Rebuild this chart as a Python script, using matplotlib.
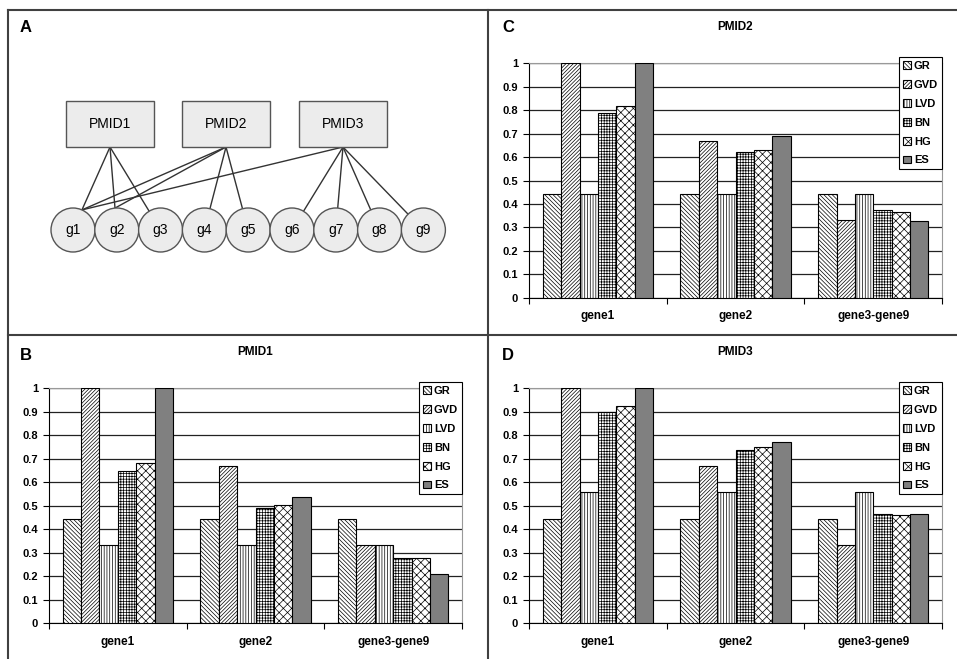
import numpy as np
import matplotlib.pyplot as plt
from matplotlib.patches import Rectangle, Circle
from matplotlib.lines import Line2D

plt.rcParams["font.family"] = ["Liberation Sans", "DejaVu Sans"]
plt.rcParams["hatch.linewidth"] = 0.5

# === DATA ===
groups = ["gene1", "gene2", "gene3-gene9"]
methods = ["GR", "GVD", "LVD", "BN", "HG", "ES"]

pmid1 = {
    "GR": [0.444, 0.444, 0.444],
    "GVD": [1.0, 0.667, 0.333],
    "LVD": [0.333, 0.333, 0.333],
    "BN": [0.647, 0.488, 0.278],
    "HG": [0.680, 0.502, 0.275],
    "ES": [1.0, 0.538, 0.209],
}
pmid2 = {
    "GR": [0.444, 0.444, 0.444],
    "GVD": [1.0, 0.667, 0.333],
    "LVD": [0.444, 0.444, 0.444],
    "BN": [0.787, 0.623, 0.373],
    "HG": [0.818, 0.630, 0.364],
    "ES": [1.0, 0.688, 0.329],
}
pmid3 = {
    "GR": [0.444, 0.444, 0.444],
    "GVD": [1.0, 0.667, 0.333],
    "LVD": [0.556, 0.556, 0.556],
    "BN": [0.900, 0.737, 0.465],
    "HG": [0.925, 0.747, 0.461],
    "ES": [1.0, 0.770, 0.464],
}

# diagram: which genes each PMID links to
genes = ["g1", "g2", "g3", "g4", "g5", "g6", "g7", "g8", "g9"]
pmids = ["PMID1", "PMID2", "PMID3"]
links = {
    "PMID1": ["g1", "g2", "g3"],
    "PMID2": ["g1", "g2", "g4", "g5"],
    "PMID3": ["g1", "g6", "g7", "g8", "g9"],
}

# === STYLES ===
hatches = {"GR": "\\" * 8, "GVD": "/" * 9, "LVD": "|" * 6, "BN": "+" * 6, "HG": "x" * 4, "ES": ""}
fills = {"GR": "white", "GVD": "white", "LVD": "white", "BN": "white", "HG": "white", "ES": "#808080"}

W, H = 957, 659
fig = plt.figure(figsize=(W / 100, H / 100), dpi=100)

# overlay in pixel coords for borders, letters and diagram
ov = fig.add_axes([0, 0, 1, 1], zorder=0)
ov.set_xlim(0, W)
ov.set_ylim(H, 0)
ov.axis("off")

border = "#404040"
for xs, ys in [([8, W], [10, 10]), ([8, 8], [10, H]), ([488, 488], [10, H]), ([8, W], [335, 335])]:
    ov.add_line(Line2D(xs, ys, color=border, lw=1.5))

for letter, (lx, ly) in zip("ACBD", [(20, 28), (502, 28), (20, 356), (502, 356)]):
    ov.text(lx, ly, letter, fontsize=12, fontweight="bold", va="center", ha="left")

# === PANEL A: DIAGRAM ===
box_x = {"PMID1": 110, "PMID2": 226, "PMID3": 343}
box_w, box_h, box_top = 88, 46, 101
gene_x0, gene_dx, gene_y, r = 73, 43.8, 230, 22
gene_pos = {g: (gene_x0 + i * gene_dx, gene_y) for i, g in enumerate(genes)}

for p in pmids:
    bx = box_x[p]
    ov.add_patch(Rectangle((bx - box_w / 2, box_top), box_w, box_h,
                           facecolor="#ececec", edgecolor="#555555", lw=1.0, zorder=3))
    ov.text(bx, box_top + box_h / 2, p, ha="center", va="center", fontsize=10, zorder=4)

# attach point on each gene circle toward the first PMID linking it
attach = {}
for p in pmids:
    for g in links[p]:
        if g in attach:
            continue
        cx, cy = gene_pos[g]
        dx, dy = box_x[p] - cx, (box_top + box_h) - cy
        d = np.hypot(dx, dy)
        attach[g] = (cx + r * dx / d, cy + r * dy / d)

for p in pmids:
    for g in links[p]:
        ax_, ay_ = attach[g]
        ov.add_line(Line2D([box_x[p], ax_], [box_top + box_h, ay_], color="#333333", lw=1.0, zorder=2))

for g in genes:
    cx, cy = gene_pos[g]
    ov.add_patch(Circle((cx, cy), r, facecolor="#ececec", edgecolor="#555555", lw=1.0, zorder=3))
    ov.text(cx, cy, g, ha="center", va="center", fontsize=10, zorder=4)


# === BAR PANELS ===
def bar_panel(rect, data, title):
    ax = fig.add_axes(rect, zorder=2)
    x = np.arange(len(groups))
    bw = 0.8 / len(methods)
    for i, m in enumerate(methods):
        ax.bar(x - 0.4 + bw * (i + 0.5), data[m], bw, color=fills[m], hatch=hatches[m],
               edgecolor="black", lw=0.8, label=m, zorder=3)
    ax.set_xlim(-0.5, 2.5)
    ax.set_ylim(0, 1)
    ax.set_yticks(np.arange(0, 1.01, 0.1))
    ax.set_yticklabels(["0", "0.1", "0.2", "0.3", "0.4", "0.5", "0.6", "0.7", "0.8", "0.9", "1"])
    ax.grid(axis="y", color="#222222", lw=0.9, zorder=0)
    ax.set_xticks([-0.5, 0.5, 1.5, 2.5])
    ax.set_xticklabels([])
    ax.set_xticks(x, minor=True)
    ax.set_xticklabels(groups, minor=True)
    ax.tick_params(axis="x", which="minor", length=0, pad=9)
    ax.tick_params(axis="x", which="major", length=4, direction="out")
    ax.tick_params(axis="y", length=4, direction="out", pad=4)
    for lab in ax.get_xticklabels(minor=True):
        lab.set_fontsize(8.5)
        lab.set_fontweight("bold")
    for lab in ax.get_yticklabels():
        lab.set_fontsize(8)
        lab.set_fontweight("bold")
    for s in ["top", "right"]:
        ax.spines[s].set_color("#999999")
    ax.spines["left"].set_color("black")
    ax.spines["bottom"].set_color("black")
    ax.set_title(title, fontsize=8.5, fontweight="bold", pad=24)
    leg = ax.legend(loc="upper right", bbox_to_anchor=(1.0, 1.025), borderaxespad=0,
                    fancybox=False, edgecolor="black", framealpha=1,
                    handlelength=0.7, handleheight=0.7, handletextpad=0.3,
                    labelspacing=0.8, borderpad=0.35, prop={"size": 8, "weight": "bold"})
    leg.get_frame().set_linewidth(0.8)
    return ax


bar_panel([0.5528, 0.5478, 0.4316, 0.3566], pmid2, "PMID2")
bar_panel([0.0512, 0.0546, 0.4316, 0.3566], pmid1, "PMID1")
bar_panel([0.5528, 0.0546, 0.4316, 0.3566], pmid3, "PMID3")

fig.savefig("out.png", dpi=100)
